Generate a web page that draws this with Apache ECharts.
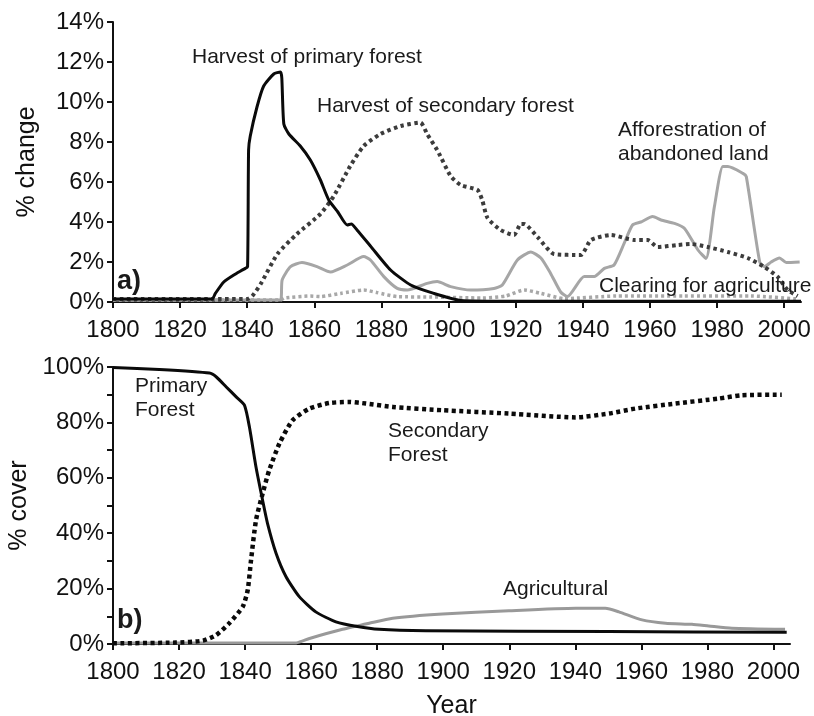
<!DOCTYPE html>
<html>
<head>
<meta charset="utf-8">
<script src="https://cdn.jsdelivr.net/npm/echarts@6/dist/echarts.min.js"></script>
<style>
html,body{margin:0;padding:0;background:#fff;}
#main{width:814px;height:716px;}
</style>
</head>
<body>
<div id="main"></div>
<script>
// x ticks shared by both panels
var yearTicks = [1800, 1820, 1840, 1860, 1880, 1900, 1920, 1940, 1960, 1980, 2000];

// a) % change
var primHarvestYears = [1800, 1829.5, 1830.5, 1833, 1836, 1839.4, 1840.1, 1840.4, 1840.9, 1842.9, 1844.9, 1847.9, 1849.9, 1850.3, 1850.9, 1852.4, 1855.8, 1858.8, 1861.8, 1864.3, 1867, 1869.8, 1871, 1872.7, 1876.7, 1882.7, 1888.7, 1895.6, 1903.6, 1920, 1960, 2005];
var primHarvestVals = [0.15, 0.15, 0.43, 1.0, 1.35, 1.68, 1.77, 7.6, 8.3, 9.75, 10.8, 11.4, 11.5, 11.2, 8.9, 8.4, 7.8, 7.1, 6.1, 5.1, 4.5, 3.85, 3.9, 3.6, 2.8, 1.6, 0.85, 0.43, 0.08, 0.04, 0.04, 0.04];

var secHarvestYears = [1800, 1840, 1841.5, 1844, 1849, 1854.8, 1861.8, 1865.8, 1870.7, 1874.7, 1879.7, 1885.7, 1891.6, 1893.6, 1896.6, 1900.6, 1903.6, 1908.6, 1910, 1911.6, 1915.5, 1919.5, 1921.5, 1922.5, 1926.5, 1931.4, 1939.4, 1942.4, 1948.4, 1955.3, 1959.3, 1962.3, 1968.3, 1972.2, 1977.2, 1983.2, 1989.1, 1994.1, 1998.1, 2001, 2004];
var secHarvestVals = [0.15, 0.15, 0.3, 0.9, 2.4, 3.4, 4.4, 5.3, 6.8, 7.8, 8.4, 8.8, 8.97, 8.4, 7.6, 6.3, 5.85, 5.6, 5.1, 4.2, 3.6, 3.35, 3.9, 3.9, 3.25, 2.4, 2.35, 3.1, 3.35, 3.1, 3.1, 2.75, 2.85, 2.9, 2.75, 2.5, 2.2, 1.75, 1.25, 0.6, 0.3];

var afforYears = [1800, 1849.9, 1850.4, 1852.9, 1856.3, 1860.8, 1864.8, 1869.8, 1874.7, 1876.7, 1880.7, 1884.7, 1887.7, 1893.6, 1896.6, 1900.6, 1906.6, 1913.5, 1916, 1920.5, 1924.5, 1927.5, 1930.4, 1933.4, 1935.4, 1940.4, 1943.4, 1946.4, 1949.3, 1952.3, 1954.8, 1957.3, 1960.8, 1963.3, 1967.3, 1970.3, 1974.3, 1976.7, 1979.2, 1981.7, 1983.2, 1987.7, 1988.7, 1992.7, 1994.2, 1996.1, 1998.6, 2000.6, 2004.6];
var afforVals = [0.1, 0.1, 1.1, 1.77, 1.97, 1.77, 1.5, 1.85, 2.27, 2.1, 1.27, 0.68, 0.6, 0.93, 1.02, 0.77, 0.6, 0.68, 0.85, 2.1, 2.5, 2.2, 1.43, 0.5, 0.27, 1.27, 1.27, 1.68, 1.85, 2.93, 3.85, 4.0, 4.27, 4.1, 3.93, 3.68, 2.6, 2.18, 4.77, 6.77, 6.77, 6.43, 6.27, 2.0, 1.77, 2.0, 2.2, 1.97, 2.0];

var clearYears = [1800, 1850, 1851, 1858.8, 1861.8, 1867.8, 1874.7, 1878.7, 1884.7, 1895, 1910, 1917, 1922.5, 1927.5, 1934.5, 1950, 1970, 1990, 2004];
var clearVals = [0.1, 0.1, 0.2, 0.3, 0.27, 0.43, 0.6, 0.47, 0.27, 0.25, 0.2, 0.3, 0.6, 0.43, 0.17, 0.3, 0.3, 0.3, 0.15];

// b) % cover
var primYears = [1800, 1814, 1829.2, 1831.3, 1834.3, 1837.3, 1839.8, 1841.3, 1843.3, 1845.3, 1846.8, 1849.4, 1852.4, 1856.4, 1861.4, 1867.5, 1874, 1880.6, 1894.7, 1950, 2004];
var primVals = [99.8, 99.1, 97.8, 96.4, 92.8, 89.2, 86.2, 78.4, 63.9, 51.9, 43.5, 32.7, 24.3, 17.1, 11.6, 8.0, 6.3, 5.3, 4.8, 4.5, 4.2];

var secYears = [1800, 1819, 1827.2, 1831.2, 1835.2, 1839.3, 1840.8, 1841.8, 1843.3, 1845.3, 1847.3, 1850.4, 1854.4, 1859.5, 1865.5, 1871.5, 1876.6, 1884.7, 1899.8, 1919.9, 1940.1, 1950.2, 1958.2, 1970.3, 1983.4, 1990.4, 2002.5];
var secVals = [0.25, 0.5, 1.2, 3.2, 7.5, 13.5, 19.5, 30.3, 44.7, 54.3, 62.7, 72.4, 80.8, 85, 87, 87.4, 86.8, 85.6, 84.4, 83.2, 81.8, 83.2, 85, 86.8, 88.6, 89.8, 90];

var agriYears = [1800, 1855.5, 1859.5, 1869.5, 1877.6, 1884.7, 1899.8, 1919.9, 1940.1, 1949.1, 1953.2, 1960.2, 1967.3, 1975.3, 1980.4, 1987.4, 2003.5];
var agriVals = [0.4, 0.4, 2, 5.3, 7.5, 9.3, 10.8, 12, 12.9, 12.9, 11.6, 8.7, 7.5, 7.1, 6.5, 5.7, 5.3];

function pairs(xs, ys){
	var out = [];
	for (var i = 0; i < xs.length; i++) {
		out.push([xs[i], ys[i]]);
	}
	return out;
}

var FONT = '"Liberation Sans", Arial, sans-serif';
var INK = '#111';

function xAxisFor(idx, withName){
	var ax = {
		type: 'value', gridIndex: idx, min: 1800, max: 2005,
		axisLine: { show: true, lineStyle: { color: INK, width: 2 } },
		axisTick: { show: true, length: 6, lineStyle: { color: INK, width: 2 }, customValues: yearTicks },
		axisLabel: {
			color: INK, fontSize: 24, fontFamily: FONT, margin: 16, customValues: yearTicks,
			formatter: function(v){ return String(v); }
		},
		splitLine: { show: false }
	};
	if (withName) {
		ax.name = 'Year';
		ax.nameLocation = 'middle';
		ax.nameGap = 50;
		ax.nameTextStyle = { color: INK, fontSize: 25, fontFamily: FONT };
	}
	return ax;
}

function yAxisFor(idx, max, interval, name, minor){
	return {
		type: 'value', gridIndex: idx, min: 0, max: max, interval: interval,
		name: name, nameLocation: 'middle', nameGap: 73,
		nameTextStyle: { color: INK, fontSize: 25, fontFamily: FONT },
		axisLine: { show: true, lineStyle: { color: INK, width: 2 } },
		axisTick: { show: true, length: 6, lineStyle: { color: INK, width: 2 } },
		minorTick: { show: minor, splitNumber: 2, length: 6, lineStyle: { color: INK, width: 2 } },
		axisLabel: { color: INK, fontSize: 24, fontFamily: FONT, margin: 9, formatter: '{value}%' },
		splitLine: { show: false }
	};
}

function line(name, idx, xs, ys, color, width, dash){
	return {
		name: name, type: 'line', xAxisIndex: idx, yAxisIndex: idx,
		data: pairs(xs, ys), showSymbol: false, symbol: 'none', smooth: 0.2,
		lineStyle: { color: color, width: width, type: dash || 'solid', cap: 'butt', join: 'round' },
		z: 3
	};
}

var annoFont = '21px ' + FONT;
function label(text, x, y, opts){
	opts = opts || {};
	return {
		type: 'text', x: x, y: y, z: 10,
		style: {
			text: text, fill: '#1a1a1a', font: opts.font || annoFont,
			align: opts.align || 'left', verticalAlign: 'middle', lineHeight: 24
		}
	};
}

var myChart = echarts.init(document.getElementById('main'), null, { renderer: 'canvas' });
var option = {
	animation: false,
	backgroundColor: '#fff',
	grid: [
		{ left: 113, top: 22, width: 688, height: 280, outerBoundsMode: 'none', containLabel: false },
		{ left: 113, top: 367, width: 677, height: 277, outerBoundsMode: 'none', containLabel: false }
	],
	xAxis: [xAxisFor(0, false), xAxisFor(1, true)],
	yAxis: [yAxisFor(0, 14, 2, '% change', false), yAxisFor(1, 100, 20, '% cover', true)],
	series: [
		line('Clearing for agriculture', 0, clearYears, clearVals, '#a8a8a8', 3.5, [3, 3]),
		line('Afforestration of abandoned land', 0, afforYears, afforVals, '#a6a6a6', 3),
		line('Harvest of secondary forest', 0, secHarvestYears, secHarvestVals, '#3c3c3c', 4, [3.5, 3.5]),
		line('Harvest of primary forest', 0, primHarvestYears, primHarvestVals, '#0a0a0a', 3),
		line('Agricultural', 1, agriYears, agriVals, '#999999', 3),
		line('Primary Forest', 1, primYears, primVals, '#0a0a0a', 3),
		line('Secondary Forest', 1, secYears, secVals, '#0a0a0a', 4.5, [4, 3.5])
	],
	graphic: [
		label('Harvest of primary forest', 192, 57),
		label('Harvest of secondary forest', 317, 106),
		label('Afforestration of\nabandoned land', 618, 142),
		label('Clearing for agriculture', 599, 286),
		label('a)', 117, 282, { font: 'bold 27px ' + FONT }),
		label('Primary\nForest', 135, 398),
		label('Secondary\nForest', 388, 443),
		label('Agricultural', 503, 589),
		label('b)', 117, 621, { font: 'bold 27px ' + FONT })
	]
};
myChart.setOption(option);
</script>
</body>
</html>
